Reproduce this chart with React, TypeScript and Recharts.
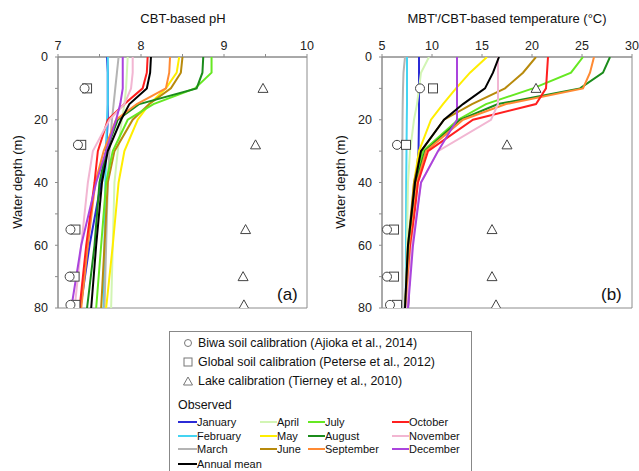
import { ScatterChart, Scatter, XAxis, YAxis, ReferenceArea } from 'recharts';

// depth levels of the observed profiles (m)
const depths = [0, 5, 10, 15, 20, 30, 40, 60, 80];

const seriesNames = [
  'January', 'February', 'March', 'April', 'May', 'June',
  'July', 'August', 'September', 'October', 'November', 'December', 'Annual mean',
];
const seriesColors = [
  '#2b2bd6', '#44d4f2', '#b4b4b4', '#d2f5b4', '#ffee00', '#b88a0c',
  '#66e822', '#1b8c1b', '#ff8a33', '#ff1f1f', '#f2b6d2', '#aa44dd', '#000000',
];

// CBT-based pH
const phJan = [7.59, 7.6, 7.6, 7.6, 7.6, 7.58, 7.52, 7.38, 7.27];
const phFeb = [7.6, 7.6, 7.6, 7.6, 7.59, 7.58, 7.57, 7.56, 7.55];
const phMar = [7.73, 7.71, 7.69, 7.67, 7.65, 7.62, 7.6, 7.58, 7.56];
const phApr = [7.84, 7.83, 7.82, 7.8, 7.77, 7.72, 7.68, 7.66, 7.64];
const phMay = [8.46, 8.43, 8.3, 8.1, 7.96, 7.8, 7.73, 7.66, 7.58];
const phJun = [8.5, 8.48, 8.36, 8.1, 7.9, 7.68, 7.6, 7.56, 7.52];
const phJul = [8.85, 8.85, 8.65, 8.15, 7.84, 7.66, 7.58, 7.52, 7.46];
const phAug = [8.75, 8.74, 8.67, 7.98, 7.72, 7.58, 7.5, 7.44, 7.35];
const phSep = [8.35, 8.34, 8.3, 7.95, 7.7, 7.55, 7.45, 7.36, 7.28];
const phOct = [8.08, 8.07, 8.02, 7.8, 7.6, 7.48, 7.44, 7.34, 7.26];
const phNov = [7.9, 7.9, 7.88, 7.8, 7.62, 7.42, 7.36, 7.28, 7.2];
const phDec = [7.78, 7.78, 7.78, 7.75, 7.7, 7.58, 7.46, 7.28, 7.16];
const phMean = [8.12, 8.11, 8.07, 7.86, 7.76, 7.6, 7.53, 7.46, 7.4];

// MBT'/CBT-based temperature
const tJan = [8.7, 8.7, 8.7, 8.7, 8.7, 8.65, 8.4, 7.9, 7.6];
const tFeb = [7.5, 7.5, 7.5, 7.5, 7.48, 7.45, 7.42, 7.4, 7.37];
const tMar = [7.3, 7.15, 7.1, 7.07, 7.05, 7.03, 7.02, 7.02, 7.05];
const tApr = [9.7, 8.9, 8.7, 8.5, 8.2, 7.8, 7.6, 7.5, 7.4];
const tMay = [15.5, 13.8, 12.4, 11.1, 9.9, 8.7, 8.2, 7.7, 7.4];
const tJun = [20.4, 19.1, 17.3, 14.0, 11.2, 8.9, 8.2, 7.6, 7.3];
const tJul = [25.1, 23.9, 20.1, 15.4, 12.6, 9.1, 8.4, 7.7, 7.3];
const tAug = [27.8, 27.1, 24.8, 16.6, 12.8, 9.3, 8.4, 7.8, 7.4];
const tSep = [26.2, 25.8, 25.1, 17.4, 13.1, 9.4, 8.5, 7.8, 7.4];
const tOct = [21.6, 21.5, 21.4, 20.4, 14.1, 9.6, 8.6, 7.9, 7.6];
const tNov = [16.6, 16.6, 16.6, 16.6, 15.9, 10.6, 8.9, 8.0, 7.5];
const tDec = [12.5, 12.5, 12.5, 12.5, 12.5, 10.6, 8.9, 8.1, 7.6];
const tMean = [16.7, 16.1, 15.3, 13.1, 11.2, 8.9, 8.3, 7.6, 7.3];

const phSeries = [phJan, phFeb, phMar, phApr, phMay, phJun, phJul, phAug, phSep, phOct, phNov, phDec, phMean];
const tempSeries = [tJan, tFeb, tMar, tApr, tMay, tJun, tJul, tAug, tSep, tOct, tNov, tDec, tMean];

// sediment-based estimates
const calDepths = [10, 28, 55, 70, 79];
const phBiwa = [7.32, 7.24, 7.15, 7.14, 7.15];
const phGlobal = [7.35, 7.28, 7.21, 7.2, 7.21];
const phLake = [9.47, 9.38, 9.26, 9.23, 9.24];
const tempBiwa = [8.8, 6.5, 5.5, 5.5, 5.8];
const tempGlobal = [10.1, 7.4, 6.2, 6.2, 6.5];
const tempLake = [20.4, 17.5, 16.0, 16.0, 16.4];

const phTicks = [7, 7.5, 8, 8.5, 9, 9.5, 10];
const tempTicks = [5, 10, 15, 20, 25, 30];
const depthTicks = [0, 10, 20, 30, 40, 50, 60, 70, 80];

const FONT = 'Arial, "Liberation Sans", sans-serif';
const AXIS = '#8c8c8c';
const MARK = '#444';

const toPoints = (vals: number[], ds: number[]) => vals.map((v, i) => ({ v, depth: ds[i] }));

const NoDot = () => <g />;
const CircleDot = (p: any) => <circle cx={p.cx} cy={p.cy} r={4.5} fill="#fff" stroke={MARK} strokeWidth={1} />;
const SquareDot = (p: any) => <rect x={p.cx - 4.5} y={p.cy - 4.5} width={9} height={9} fill="#fff" stroke={MARK} strokeWidth={1} />;
const TriDot = (p: any) => (
  <polygon points={`${p.cx},${p.cy - 5} ${p.cx - 5},${p.cy + 4} ${p.cx + 5},${p.cy + 4}`} fill="#fff" stroke={MARK} strokeWidth={1} />
);

interface PanelProps {
  left: number;
  domain: [number, number];
  ticks: number[];
  series: number[][];
  biwa: number[];
  global: number[];
  lake: number[];
  yWidth: number;
  right: number;
  majorOnly: (v: number) => boolean;
}

function Panel({ left, domain, ticks, series, biwa, global, lake, yWidth, right, majorOnly }: PanelProps) {
  return (
    <div style={{ position: 'absolute', left, top: 0 }}>
      <ScatterChart width={320} height={320} margin={{ top: 27, right, bottom: 12, left: 0 }}>
        <XAxis
          type="number"
          dataKey="v"
          orientation="top"
          height={30}
          domain={domain}
          ticks={ticks}
          allowDataOverflow
          tickFormatter={(v: number) => (majorOnly(v) ? String(v) : '')}
          stroke={AXIS}
          tickSize={3}
          tickMargin={4}
          tick={{ fill: '#222', fontSize: 12.5, fontFamily: FONT }}
        />
        <YAxis
          type="number"
          dataKey="depth"
          reversed
          width={yWidth}
          domain={[0, 80]}
          ticks={depthTicks}
          allowDataOverflow
          tickFormatter={(v: number) => (v % 20 === 0 ? String(v) : '')}
          stroke={AXIS}
          tickSize={3}
          tickMargin={7}
          tick={{ fill: '#222', fontSize: 12.5, fontFamily: FONT }}
        />
        <ReferenceArea x1={domain[0]} x2={domain[1]} y1={0} y2={80} fill="none" stroke={AXIS} strokeWidth={1} />
        {series.map((vals, i) => (
          <Scatter
            key={seriesNames[i]}
            data={toPoints(vals, depths)}
            fill={seriesColors[i]}
            line={{ stroke: seriesColors[i], strokeWidth: 2 }}
            shape={NoDot}
            isAnimationActive={false}
          />
        ))}
        <Scatter data={toPoints(global, calDepths)} shape={SquareDot} isAnimationActive={false} />
        <Scatter data={toPoints(biwa, calDepths)} shape={CircleDot} isAnimationActive={false} />
        <Scatter data={toPoints(lake, calDepths)} shape={TriDot} isAnimationActive={false} />
      </ScatterChart>
    </div>
  );
}

const txt = (x: number, y: number, size: number): React.CSSProperties => ({
  position: 'absolute',
  left: x,
  top: y - size * 0.58,
  fontSize: size,
  fontFamily: FONT,
  color: '#111',
  lineHeight: 1.15,
  whiteSpace: 'nowrap',
});

const legendCols = [
  { x: 178, items: [0, 1, 2, 12] },
  { x: 260, items: [3, 4, 5] },
  { x: 308, items: [6, 7, 8] },
  { x: 392, items: [9, 10, 11] },
];
const legendRowY = [422, 436, 449, 464];

function LegendMarker({ kind, x, y }: { kind: string; x: number; y: number }) {
  return (
    <svg style={{ position: 'absolute', left: x - 6, top: y - 6 }} width={12} height={12}>
      {kind === 'c' && <circle cx={6} cy={6} r={3.5} fill="#fff" stroke="#777" />}
      {kind === 's' && <rect x={2} y={2} width={8} height={8} fill="#fff" stroke="#777" />}
      {kind === 't' && <polygon points="6,2 1.5,10 10.5,10" fill="#fff" stroke="#777" />}
    </svg>
  );
}

export default function App() {
  return (
    <div style={{ position: 'absolute', left: 0, top: 0, width: 639, height: 471, overflow: 'hidden', background: '#fff' }}>
      <Panel left={0} domain={[7, 10]} ticks={phTicks} series={phSeries} biwa={phBiwa} global={phGlobal} lake={phLake}
        yWidth={58} right={13} majorOnly={(v) => Number.isInteger(v)} />
      <Panel left={320} domain={[5, 30]} ticks={tempTicks} series={tempSeries} biwa={tempBiwa} global={tempGlobal} lake={tempLake}
        yWidth={62} right={8} majorOnly={() => true} />

      <div style={{ ...txt(0, 20, 13), width: 366, textAlign: 'center' }}>CBT-based pH</div>
      <div style={{ ...txt(320, 20, 13), width: 374, textAlign: 'center' }}>MBT'/CBT-based temperature (°C)</div>
      {[18, 341].map((cx) => (
        <div key={cx} style={{ position: 'absolute', left: cx - 60, top: 182 - 8, width: 120, textAlign: 'center', fontSize: 13,
          fontFamily: FONT, color: '#111', lineHeight: '16px', transform: 'rotate(-90deg)' }}>Water depth (m)</div>
      ))}
      <div style={txt(277, 295, 17)}>(a)</div>
      <div style={txt(601, 295, 17)}>(b)</div>

      <div style={{ position: 'absolute', left: 169, top: 331, width: 303, height: 160, border: '1px solid #888', boxSizing: 'border-box' }} />
      <LegendMarker kind="c" x={188} y={343} />
      <LegendMarker kind="s" x={188} y={362} />
      <LegendMarker kind="t" x={188} y={381} />
      <div style={txt(198, 343, 12.4)}>Biwa soil calibration (Ajioka et al., 2014)</div>
      <div style={txt(198, 362, 12.4)}>Global soil calibration (Peterse et al., 2012)</div>
      <div style={txt(198, 381, 12.4)}>Lake calibration (Tierney et al., 2010)</div>
      <div style={txt(178, 405, 12.4)}>Observed</div>
      {legendCols.map((col) =>
        col.items.map((si, r) => (
          <div key={si}>
            <div style={{ position: 'absolute', left: col.x, top: legendRowY[r] - 1, width: si < 3 || si === 12 ? 19 : 17, height: 2, background: seriesColors[si] }} />
            <div style={txt(col.x + (si < 3 || si === 12 ? 19 : 17), legendRowY[r], 11)}>{seriesNames[si]}</div>
          </div>
        ))
      )}
    </div>
  );
}
